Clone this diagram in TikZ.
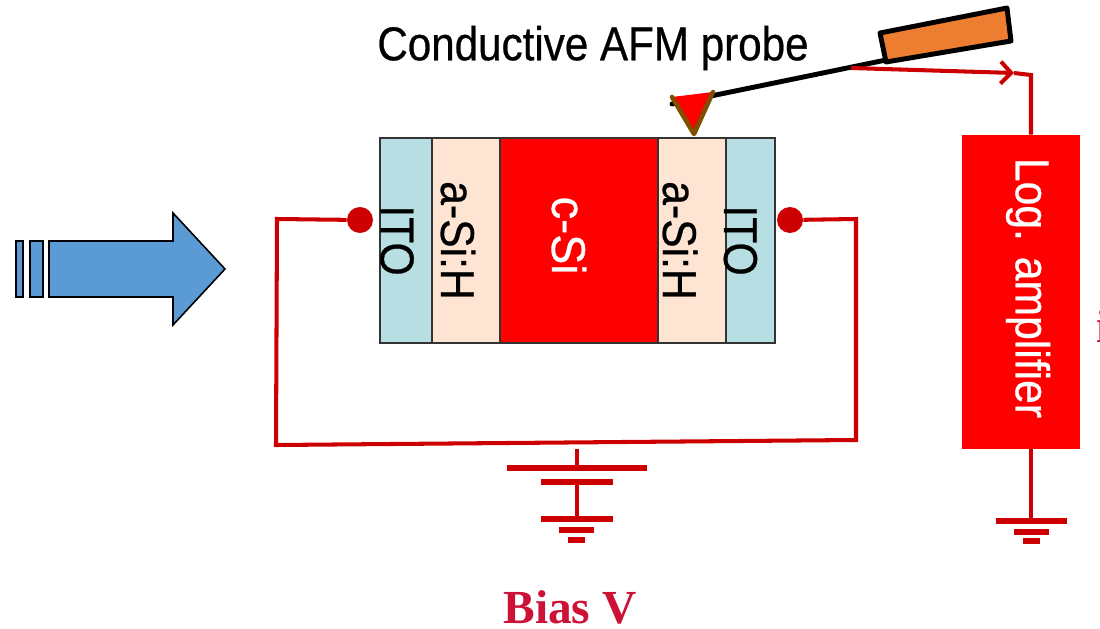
\documentclass[tikz,border=0pt]{standalone}
\usepackage{fontspec}
\setmainfont{Liberation Sans}
\newfontfamily\heavyfont[FakeBold = 0.6]{Liberation Sans}
\newfontfamily\biasfont{Liberation Serif}
\usetikzlibrary{positioning,arrows.meta}
\definecolor{itoblue}{HTML}{B7DEE2}
\definecolor{asipeach}{HTML}{FEE4D3}
\definecolor{wirered}{HTML}{CC0000}
\definecolor{biasred}{HTML}{CC1236}
\definecolor{basebrown}{HTML}{7F4F00}
\definecolor{baseorange}{HTML}{ED7D31}
\definecolor{beamblue}{HTML}{5B9BD5}
\newcommand{\narrowtext}[2][0.9]{\scalebox{#1}[1]{#2}}
\tikzset{
	layer/.style = {draw = black!80, line width = 0.8pt, minimum height = 4.1cm, inner sep = 0, outer sep = 0},
	layertext/.style = {rotate = -90, font = \fontsize{27}{27}\heavyfont, inner sep = 0},
	wire/.style = {draw = wirered, line width = 2.3pt},
	contact/.style = {circle, fill = wirered, minimum size = 0.52cm, inner sep = 0},
	beam/.style = {draw = black, fill = beamblue, line width = 0.9pt}
}
\begin{document}
\begin{tikzpicture}[x = 0.02cm, y = -0.02cm, node distance = 0]
	\useasboundingbox (0,0) rectangle (1100,629);
	% solar cell stack
	\node (itoL) [layer, fill = itoblue, minimum width = 1.04cm] at (406,240.5) {};
	\node (asiL) [layer, fill = asipeach, minimum width = 1.36cm, right = of itoL] {};
	\node (csi) [layer, fill = red, minimum width = 3.16cm, right = of asiL] {};
	\node (asiR) [layer, fill = asipeach, minimum width = 1.36cm, right = of csi] {};
	\node (itoR) [layer, fill = itoblue, minimum width = 0.98cm, right = of asiR] {};
	\node [layertext, yshift = -0.18cm] at (itoL) {\narrowtext{ITO}};
	\node [layertext, yshift = -0.16cm] at (asiL) {\narrowtext{a-Si:H}};
	\node [layertext, xshift = -0.1cm, yshift = -0.2cm, text = white] at (csi) {\narrowtext[0.95]{c-Si}};
	\node [layertext, yshift = -0.24cm] at (asiR) {\narrowtext{a-Si:H}};
	\node [layertext, yshift = -0.2cm] at (itoR) {\narrowtext{ITO}};
	% light beam
	\draw [beam] (16,241) rectangle (23,297);
	\draw [beam] (30,241) rectangle (43,297);
	\draw [beam] (49,241) -- (173,241) -- (173,213) -- (225,269) -- (173,325) -- (173,297) -- (49,297) -- cycle;
	% bias loop
	\node (contactL) [contact] at (360,220) {};
	\node (contactR) [contact] at (790,220) {};
	\coordinate (loopA) at (277,219);
	\coordinate (loopB) at (276,445);
	\coordinate (loopC) at (856,440);
	\coordinate (loopD) at (856,219);
	\draw [wire] (contactL) -- (loopA) -- (loopB) -- (loopC) -- (loopD) -- (contactR);
	% battery
	\coordinate (batTop) at (577,449);
	\coordinate (plateA) at (577,468);
	\coordinate (plateB) at (577,482);
	\coordinate (gndA) at (577,519);
	\draw [wire] (batTop) -- (plateA);
	\draw [wire, line width = 3pt] ([xshift = -1.4cm] plateA) -- ([xshift = 1.4cm] plateA);
	\draw [wire, line width = 3pt] ([xshift = -0.72cm] plateB) -- ([xshift = 0.72cm] plateB);
	\draw [wire] (plateB) -- (gndA);
	\draw [wire, line width = 3pt] ([xshift = -0.72cm] gndA) -- ([xshift = 0.72cm] gndA);
	\draw [wire, line width = 3pt] (559,530) -- (594,530);
	\draw [wire, line width = 3pt] (568,540) -- (585,540);
	% probe
	\coordinate (tipL) at (672,97);
	\coordinate (tipR) at (713,92);
	\coordinate (tipEnd) at (694,134);
	\coordinate (beamEnd) at (672,104);
	\coordinate (beamFoot) at (886,60);
	\draw [line width = 2.8pt, line cap = round] (beamEnd) -- (beamFoot);
	\fill [red] (tipL) -- (tipR) -- (tipEnd) -- cycle;
	\draw [basebrown, line width = 2.6pt, line cap = round, line join = round] (tipL) -- (tipEnd) -- (tipR);
	\draw [fill = baseorange, line width = 2.8pt, line join = round] (880,33) -- (1007,8) -- (1011,41) -- (886,62) -- cycle;
	\node (probelabel) [font = \fontsize{27}{27}\heavyfont] at (593,48) {\narrowtext[0.889]{Conductive AFM probe}};
	% amplifier
	\node (amp) [fill = red, minimum width = 2.36cm, minimum height = 6.28cm, inner sep = 0] at (1021,292) {};
	\node [layertext, text = white, xshift = -0.08cm, yshift = 0.14cm] at (amp) {\narrowtext{Log. amplifier}};
	\coordinate (probeOut) at (851,68);
	\coordinate (arrowOut) at (1014,73);
	\coordinate (corner) at (1031,75);
	\draw [wire, -{Straight Barb[length = 6pt, width = 12.5pt, line width = 2.3pt]}] (probeOut) -- (arrowOut);
	\draw [wire] (arrowOut) -- (corner) -- (amp.north -| corner);
	\coordinate (ampGnd) at (1031,521);
	\draw [wire] (amp.south -| ampGnd) -- (ampGnd);
	\draw [wire, line width = 3pt] ([xshift = -0.7cm] ampGnd) -- ([xshift = 0.72cm] ampGnd);
	\draw [wire, line width = 3pt] (1014,532) -- (1049,532);
	\draw [wire, line width = 3pt] (1023,541) -- (1040,541);
	% captions
	\node (bias) [text = biasred, inner sep = 0, font = \fontsize{27}{27}\selectfont\biasfont\bfseries] at (570,607) {Bias V};
	\node (cutoff) [text = biasred, font = \fontsize{27}{27}\selectfont\biasfont\bfseries, anchor = base west, inner sep = 0] at (1096,342) {i};
\end{tikzpicture}
\end{document}
